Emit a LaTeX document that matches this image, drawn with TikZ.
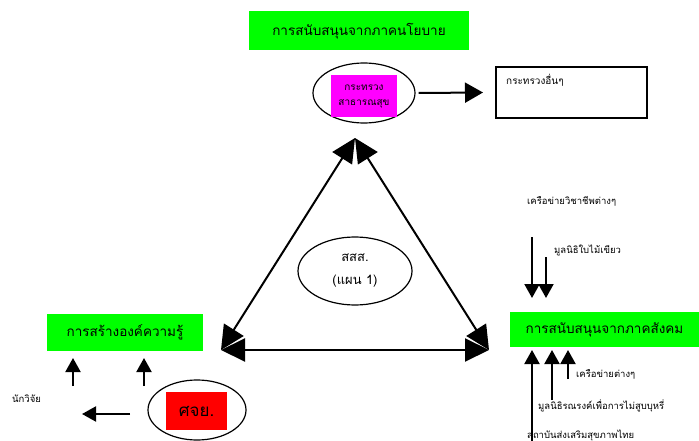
\documentclass[tikz,border=0pt]{standalone}
\usepackage{fontspec}
\usepackage{tikz}
\usetikzlibrary{arrows.meta, shapes.geometric}
\newfontfamily\thaifont[Script=Thai]{Loma}
\definecolor{pink}{RGB}{255,0,255}

\begin{document}
\begin{tikzpicture} [x = 1pt, y = -1pt, font = \thaifont,
    greenbox/.style = {fill = green, inner sep = 0pt, font = \thaifont\fontsize{13.5}{16}\selectfont},
    ring/.style = {draw, ellipse, line width = 1.2pt, inner sep = 0pt},
    tag/.style = {inner sep = 0pt, anchor = west, font = \thaifont\fontsize{9.5}{11}\selectfont},
    bigtip/.style = {line width = 2pt, {Triangle[length = 24pt, width = 23pt]}-{Triangle[length = 24pt, width = 23pt]}},
    smalltip/.style = {line width = 2pt, -{Triangle[length = 14pt, width = 15pt]}}]
\useasboundingbox (0,0) rectangle (699,441);
% top: policy side
\node[greenbox, minimum width = 220pt, minimum height = 39pt] (nayobai) at (359,31) {การสนับสนุนจากภาคนโยบาย};
\node[ring, minimum width = 102pt, minimum height = 60pt] (mophring) at (364,93) {};
\node[fill = pink, minimum width = 66pt, minimum height = 42pt, inner sep = 0pt, align = center,
      font = \thaifont\fontsize{10}{15}\selectfont] (moph) at (364,96) {กระทรวง\\สาธารณสุข};
\node[draw, line width = 1.2pt, minimum width = 151pt, minimum height = 51pt, inner sep = 0pt] (others) at (571.5,92.5) {};
\node[tag, font = \thaifont\fontsize{10}{12}\selectfont] (otherstxt) at (506,80) {กระทรวงอื่นๆ};
\draw[line width = 2pt, -{Triangle[length = 18pt, width = 20pt]}] ([xshift = 3pt]mophring.east) -- (others.west -| 483,0);

% triangle
\coordinate (apex) at (355,138);
\coordinate (lcorner) at (221,350);
\coordinate (rcorner) at (489,350);
\draw[bigtip] (apex) -- (lcorner);
\draw[bigtip] (apex) -- (rcorner);
\draw[bigtip] (lcorner) -- (rcorner);
\node[ring, minimum width = 114pt, minimum height = 68pt, align = center,
      font = \thaifont\fontsize{13}{23}\selectfont] (sss) at (355,271) {สสส.\\(แผน 1)};

% left: knowledge
\node[greenbox, minimum width = 156pt, minimum height = 37pt] (khwamru) at (125,332.5) {การสร้างองค์ความรู้};
\node[ring, minimum width = 98pt, minimum height = 60pt] (cjyring) at (197,410) {};
\node[fill = red, minimum width = 61pt, minimum height = 38pt, inner sep = 0pt,
      font = \thaifont\fontsize{17}{19}\selectfont] (cjy) at (196.5,411) {ศจย.};
\node[tag] (researcher) at (12,399) {นักวิจัย};
\coordinate (up1) at (73,386);
\coordinate (up2) at (144,386);
\coordinate (lstart) at (130,414);
\draw[smalltip] (up1) -- (73,358);
\draw[smalltip] (up2) -- (144,358);
\draw[smalltip] (lstart) -- (82,414);

% right: society
\node[greenbox, minimum width = 189pt, minimum height = 35pt] (sangkhom) at (604.5,329.5) {การสนับสนุนจากภาคสังคม};
\node[tag] (wichachip) at (527,201) {เครือข่ายวิชาชีพต่างๆ};
\node[tag] (baimai) at (554,250) {มูลนิธิใบไม้เขียว};
\node[tag] (khruakhai) at (576,374) {เครือข่ายต่างๆ};
\node[tag] (ronnarong) at (538,406) {มูลนิธิรณรงค์เพื่อการไม่สูบบุหรี่};
\node[tag] (sathaban) at (527,435) {สถาบันส่งเสริมสุขภาพไทย};
\coordinate (dn1) at (532,237);
\coordinate (dn2) at (546,257);
\coordinate (up3) at (532,441);
\coordinate (up4) at (552,400);
\coordinate (up5) at (568,379);
\draw[smalltip] (dn1) -- (532,298);
\draw[smalltip] (dn2) -- (546,298);
\draw[smalltip] (up3) -- (532,350);
\draw[smalltip] (up4) -- (552,350);
\draw[smalltip] (up5) -- (568,350);
\end{tikzpicture}
\end{document}
